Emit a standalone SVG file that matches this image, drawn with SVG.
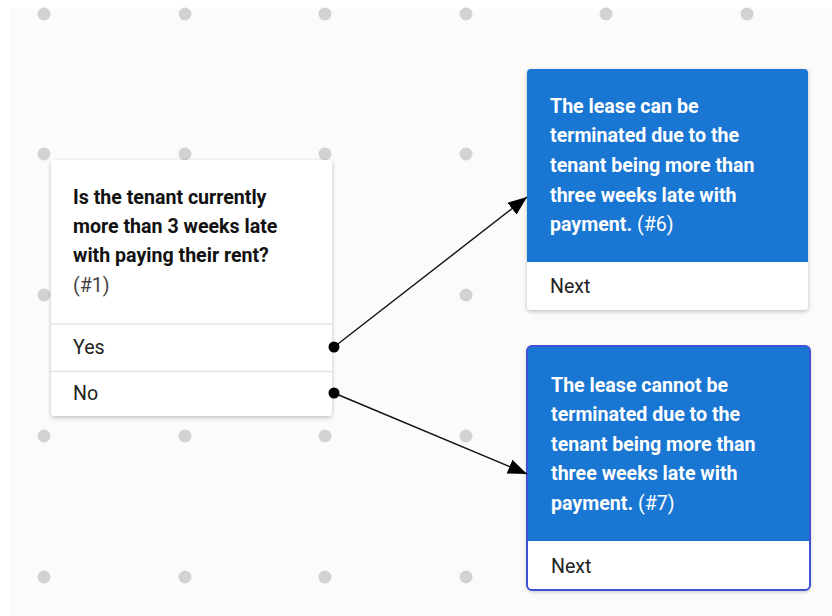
<svg xmlns="http://www.w3.org/2000/svg" width="832" height="616" viewBox="0 0 832 616">
  <defs>
    <style>
      .dot { fill: #d2d2d2; }
      .card { fill: #ffffff; }
      .sep { stroke: #e3e3e3; stroke-width: 1.5; }
      .q { font-family: Roboto, "Liberation Sans", sans-serif; font-size: 19.6px; font-weight: 700; fill: #111111; }
      .tag { font-family: Roboto, "Liberation Sans", sans-serif; font-size: 19.6px; font-weight: 400; fill: #444444; }
      .opt { font-family: Roboto, "Liberation Sans", sans-serif; font-size: 19.6px; font-weight: 400; fill: #222222; }
      .w { font-family: Roboto, "Liberation Sans", sans-serif; font-size: 19.6px; font-weight: 700; fill: #ffffff; }
      .wtag { font-family: Roboto, "Liberation Sans", sans-serif; font-size: 19.6px; font-weight: 400; fill: #ffffff; }
      .edge { stroke: #111111; stroke-width: 1.4; fill: none; marker-end: url(#arrow); }
      .port { fill: #000000; }
    </style>
    <marker id="arrow" viewBox="0 0 19 15" refX="19" refY="7.5" markerWidth="19" markerHeight="15" markerUnits="userSpaceOnUse" orient="auto">
      <path d="M0,0 L19,7.5 L0,15 Z" fill="#000000"/>
    </marker>
    <filter id="shadow" x="-10%" y="-10%" width="120%" height="125%">
      <feDropShadow dx="0" dy="1.5" stdDeviation="2" flood-color="#000000" flood-opacity="0.25"/>
    </filter>
  </defs>

  <!-- canvas -->
  <rect x="0" y="0" width="832" height="616" fill="#ffffff"/>
  <rect x="10" y="9" width="822" height="607" fill="#fcfbfa"/>

  <!-- grid dots -->
  <g id="grid">
    <circle class="dot" cx="44" cy="14" r="6.5"/><circle class="dot" cx="185" cy="14" r="6.5"/><circle class="dot" cx="325" cy="14" r="6.5"/><circle class="dot" cx="466" cy="14" r="6.5"/><circle class="dot" cx="606" cy="14" r="6.5"/><circle class="dot" cx="747" cy="14" r="6.5"/>
    <circle class="dot" cx="44" cy="154" r="6.5"/><circle class="dot" cx="185" cy="154" r="6.5"/><circle class="dot" cx="325" cy="154" r="6.5"/><circle class="dot" cx="466" cy="154" r="6.5"/>
    <circle class="dot" cx="44" cy="295" r="6.5"/><circle class="dot" cx="466" cy="295" r="6.5"/>
    <circle class="dot" cx="44" cy="436" r="6.5"/><circle class="dot" cx="185" cy="436" r="6.5"/><circle class="dot" cx="325" cy="436" r="6.5"/><circle class="dot" cx="466" cy="436" r="6.5"/>
    <circle class="dot" cx="44" cy="577" r="6.5"/><circle class="dot" cx="185" cy="577" r="6.5"/><circle class="dot" cx="325" cy="577" r="6.5"/><circle class="dot" cx="466" cy="577" r="6.5"/>
  </g>

  <!-- question node -->
  <g id="node-1">
    <rect class="card" x="51" y="160" width="281" height="256" rx="4" filter="url(#shadow)"/>
    <text class="q" x="73" y="204">Is the tenant currently</text>
    <text class="q" x="73" y="233">more than 3 weeks late</text>
    <text class="q" x="73" y="262">with paying their rent?</text>
    <text class="tag" x="73" y="292">(#1)</text>
    <line class="sep" x1="51" y1="324" x2="332" y2="324"/>
    <text class="opt" x="73" y="354">Yes</text>
    <line class="sep" x1="51" y1="371.5" x2="332" y2="371.5"/>
    <text class="opt" x="73" y="400">No</text>
  </g>

  <!-- outcome: can be terminated -->
  <g id="node-6">
    <rect class="card" x="527" y="69" width="281" height="241" rx="4" filter="url(#shadow)"/>
    <path d="M527,262 V73 A4,4 0 0 1 531,69 H804 A4,4 0 0 1 808,73 V262 Z" fill="#1976d2"/>
    <text class="w" x="550" y="113">The lease can be</text>
    <text class="w" x="550" y="142">terminated due to the</text>
    <text class="w" x="550" y="172">tenant being more than</text>
    <text class="w" x="550" y="202">three weeks late with</text>
    <text class="w" x="550" y="231">payment. <tspan class="wtag">(#6)</tspan></text>
    <text class="opt" x="550" y="293">Next</text>
  </g>

  <!-- outcome: cannot be terminated (selected) -->
  <g id="node-7">
    <rect class="card" x="527" y="346" width="283" height="244" rx="5" filter="url(#shadow)"/>
    <path d="M527,541 V351 A5,5 0 0 1 532,346 H805 A5,5 0 0 1 810,351 V541 Z" fill="#1976d2"/>
    <rect x="527" y="346" width="283" height="244" rx="5" fill="none" stroke="#3f51d6" stroke-width="2"/>
    <text class="w" x="551" y="392">The lease cannot be</text>
    <text class="w" x="551" y="421">terminated due to the</text>
    <text class="w" x="551" y="451">tenant being more than</text>
    <text class="w" x="551" y="480">three weeks late with</text>
    <text class="w" x="551" y="510">payment. <tspan class="wtag">(#7)</tspan></text>
    <text class="opt" x="551" y="573">Next</text>
  </g>

  <!-- connectors -->
  <g id="connectors">
    <line class="edge" x1="334" y1="347" x2="527" y2="197"/>
    <circle class="port" cx="334" cy="347" r="5.5"/>
    <line class="edge" x1="334" y1="393" x2="527" y2="474"/>
    <circle class="port" cx="334" cy="393" r="5.5"/>
  </g>
</svg>
